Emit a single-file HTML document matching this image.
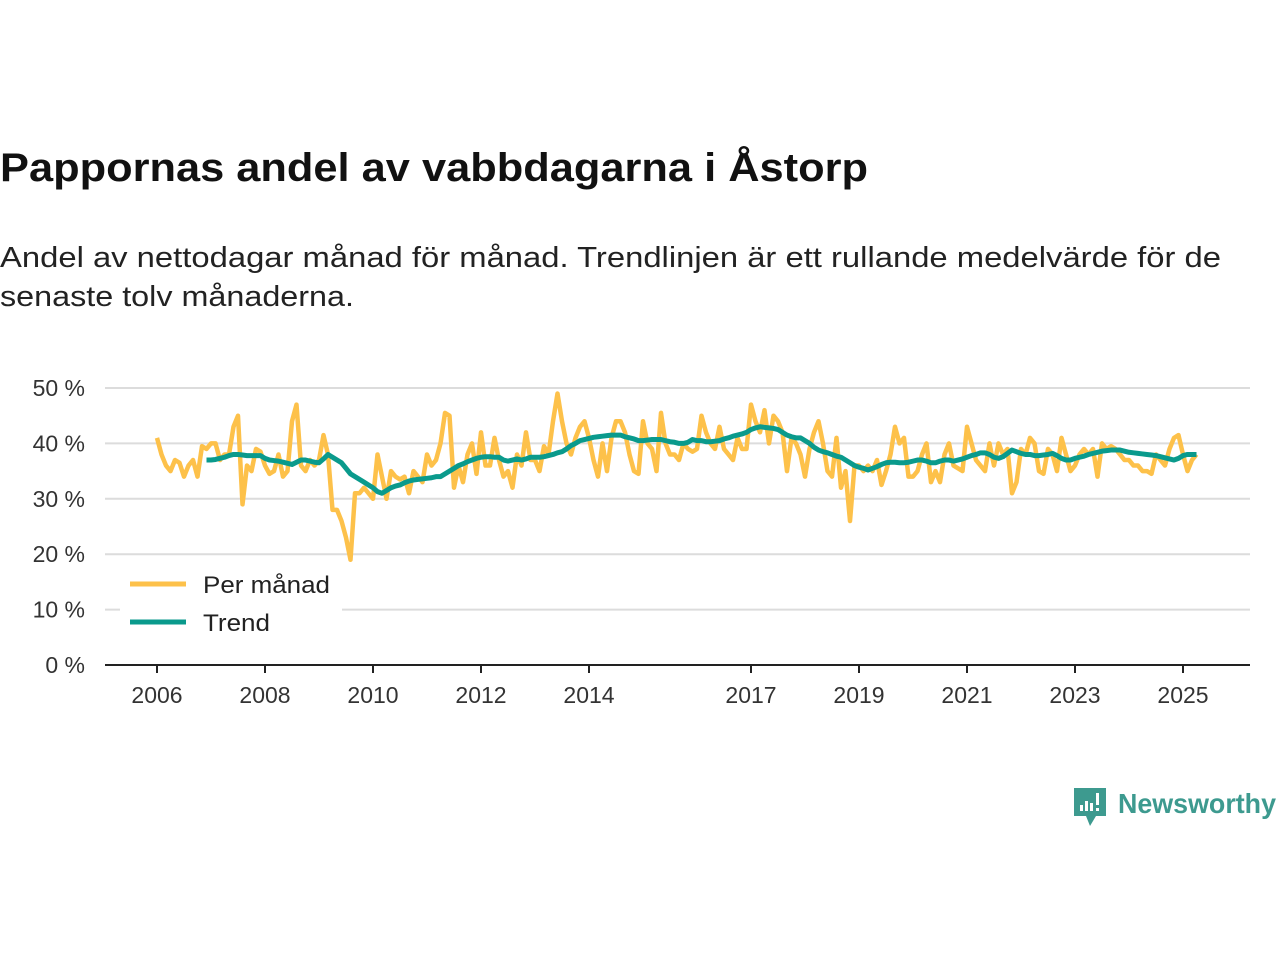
<!DOCTYPE html>
<html><head><meta charset="utf-8">
<style>
body{margin:0;background:#fff;width:1280px;height:960px;overflow:hidden;font-family:"Liberation Sans","DejaVu Sans",sans-serif;}
</style></head>
<body>
<svg id="chart" width="1280" height="960" xmlns="http://www.w3.org/2000/svg">
<text x="0" y="181" font-size="40" font-weight="bold" fill="#111" textLength="868" lengthAdjust="spacingAndGlyphs">Pappornas andel av vabbdagarna i Åstorp</text>
<text x="0" y="267" font-size="29" fill="#222" textLength="1221" lengthAdjust="spacingAndGlyphs">Andel av nettodagar månad för månad. Trendlinjen är ett rullande medelvärde för de</text>
<text x="0" y="306" font-size="29" fill="#222" textLength="354" lengthAdjust="spacingAndGlyphs">senaste tolv månaderna.</text>
<g id="grid"></g>
<g id="xaxis"></g>
<g id="series"></g>
<g>
<rect x="120" y="566" width="222" height="78" fill="#fff"/>
<line x1="130" y1="584" x2="186" y2="584" stroke="#fdc14a" stroke-width="5"/>
<text x="203" y="593" font-size="24" fill="#222" textLength="127" lengthAdjust="spacingAndGlyphs">Per månad</text>
<line x1="130" y1="622" x2="186" y2="622" stroke="#0a9a8c" stroke-width="5"/>
<text x="203" y="631" font-size="24" fill="#222" textLength="67" lengthAdjust="spacingAndGlyphs">Trend</text>
</g>
<g>
<path d="M1074 788 h32 v28 h-10 l-6 10 l-4-10 h-12 z" fill="#3d9a8f"/>
<rect x="1080" y="805" width="3" height="6" fill="#fff"/><rect x="1085" y="801" width="3" height="10" fill="#fff"/><rect x="1090" y="803" width="3" height="8" fill="#fff"/><rect x="1096" y="793" width="3" height="12" fill="#fff"/><rect x="1096" y="808" width="3" height="3" fill="#fff"/>
<text x="1118" y="813" font-size="28" fill="#3d9a8f" font-weight="bold" textLength="158" lengthAdjust="spacingAndGlyphs">Newsworthy</text>
</g>
</svg>
<script>
const yTicks=[0,10,20,30,40,50];
const yTickLabels=["0 %","10 %","20 %","30 %","40 %","50 %"];
const xTickYears=[2006,2008,2010,2012,2014,2017,2019,2021,2023,2025];
const startYear=2006;
const monthly=[
41,38,36,35,37,36.5,34,36,37,34,39.5,39,
40,40,37,38,38,43,45,29,36,35,39,38.5,
36,34.5,35,38,34,35,44,47,36,35,37,36,
37,41.5,38,28,28,26,23,19,31,31,32,31,
30,38,34,30,35,34,33.5,34,31,35,34,33,
38,36,37,40,45.5,45,32,36,33,38,40,34.5,
42,36,36,41,37,34,35,32,38,36,42,37,
37,35,39.5,38,44,49,44,40,38,41,43,44,
41,37,34,40,35,41,44,44,42,38,35,34.5,
44,40,39,35,45.5,40,38,38,37,40,39,38.5,
39,45,42,40,39,43,39,38,37,41,39,39,
47,44,42,46,40,45,44,42,35,41,40,38,
34,39,42,44,40,35,34,41,32,35,26,36,
36,35,36,35,37,32.5,35,38,43,40,41,34,
34,35,38,40,33,35,33,38,40,36,35.5,35,
43,40,37,36,35,40,36,40,38,39,31,33,
39,38,41,40,35,34.5,39,38,35,41,38,35,
36,38,39,38,39,34,40,39,39.5,39,38,37,
37,36,36,35,35,34.5,38,37,36,39,41,41.5,
38,35,37,38];
const trendStart=11;
const trend=[
37,37,37.1,37.3,37.5,37.8,38,
38,37.9,37.8,37.8,37.8,37.8,
37.3,37,36.9,36.8,36.6,36.4,36.2,
36.6,37,37,36.8,36.6,36.5,37.2,
38,37.5,37,36.5,35.5,34.5,
34,33.5,33,32.5,32,31.3,31,
31.5,32,32.3,32.5,32.9,33.2,33.4,33.5,
33.6,33.7,33.8,34,34,34.5,35,35.5,36,
36.3,36.7,37,37.3,37.5,37.6,37.6,37.5,37.5,
37,36.8,37,37.2,37,37.2,37.5,37.5,37.5,
37.6,37.8,38,38.3,38.5,39,39.6,40,40.5,
40.7,40.9,41.1,41.2,41.3,41.4,41.5,41.5,41.5,
41.2,41,40.8,40.5,40.5,40.6,40.7,40.7,40.7,
40.5,40.3,40.2,40,40,40.2,40.7,40.5,40.5,
40.3,40.3,40.4,40.5,40.8,41,41.3,41.5,41.7,
42,42.5,42.8,43,42.9,42.8,42.7,42.5,
42,41.5,41.2,41,41,40.5,40,39.3,38.8,
38.5,38.3,38,37.7,37.5,37,36.5,36,35.7,
35.5,35.2,35.5,35.8,36.2,36.5,36.6,
36.6,36.5,36.5,36.6,36.8,37,37,36.8,36.5,36.5,36.8,37,37,36.8,37,
37.2,37.5,37.8,38,38.3,38.3,38,37.5,37.3,37.6,38.2,38.8,
38.5,38.2,38,38,37.8,37.8,37.9,38,38.2,37.8,37.3,37,
37,37.3,37.5,37.7,38,38.2,38.4,38.6,38.7,38.8,38.8,38.8,
38.6,38.4,38.3,38.2,38.1,38,37.9,37.8,37.6,37.4,37.2,37,
37.3,37.8,38,38,38];

const NS='http://www.w3.org/2000/svg';
function xYear(yr){return 157+(yr-startYear)*54;}
function xIdx(i){return xYear(startYear+i/12);}
function yVal(v){return 665-v*5.54;}
function mk(tag,attrs,parent){const e=document.createElementNS(NS,tag);for(const k in attrs)e.setAttribute(k,attrs[k]);parent.appendChild(e);return e;}
const grid=document.getElementById('grid');
yTicks.forEach((t,i)=>{
  if(t>0){const l=mk('line',{x1:105,x2:1250,y1:yVal(t),y2:yVal(t),stroke:'#dcdcdc','stroke-width':2},grid);
  
  }
  const tx=mk('text',{x:85,y:yVal(t)+8,'text-anchor':'end','font-size':23,fill:'#333'},grid);
  tx.textContent=yTickLabels[i];
  
  
});
const xa=document.getElementById('xaxis');
const ax=mk('line',{x1:105,x2:1250,y1:665,y2:665,stroke:'#222','stroke-width':2},xa);


xTickYears.forEach(yr=>{
  const x=xYear(yr);
  const tk=mk('line',{x1:x,x2:x,y1:665,y2:673,stroke:'#222','stroke-width':2},xa);
  
  
  const tx=mk('text',{x:x,y:703,'text-anchor':'middle','font-size':23,fill:'#333'},xa);
  tx.textContent=yr;
  
  
});
const s=document.getElementById('series');
const p1=mk('polyline',{points:monthly.map((v,i)=>xIdx(i)+','+yVal(v)).join(' '),fill:'none',stroke:'#fdc14a','stroke-width':4.5,'stroke-linejoin':'round'},s);


const p2=mk('polyline',{points:trend.map((v,i)=>xIdx(i+trendStart)+','+yVal(v)).join(' '),fill:'none',stroke:'#0a9a8c','stroke-width':5,'stroke-linejoin':'round'},s);


</script>
</body></html>
